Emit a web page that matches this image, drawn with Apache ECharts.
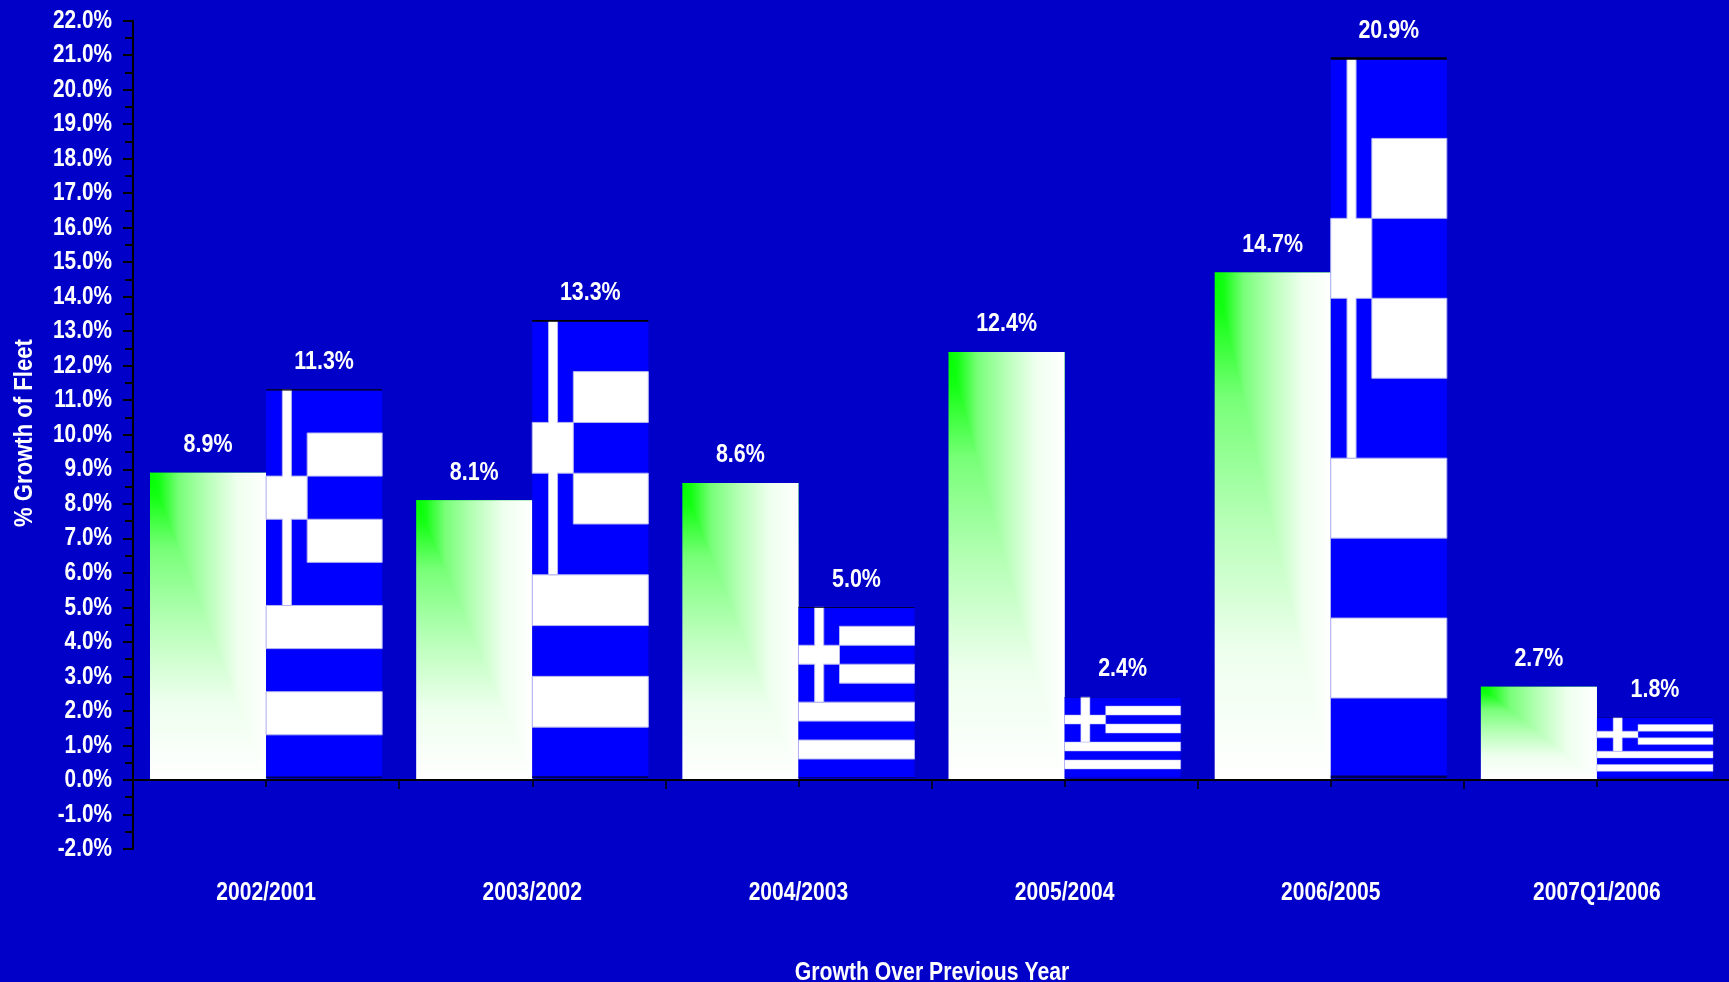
<!DOCTYPE html>
<html>
<head>
<meta charset="utf-8">
<style>html,body{margin:0;padding:0;background:#0000c8;overflow:hidden}#chart{width:1729px;height:982px}</style>
<script src="https://cdn.jsdelivr.net/npm/echarts@6/dist/echarts.min.js"></script>
</head>
<body>
<div id="chart"></div>
<script>
// Year-over-year fleet growth, two series per period.
const periods = ['2002/2001', '2003/2002', '2004/2003', '2005/2004', '2006/2005', '2007Q1/2006'];
const worldGrowth = [8.9, 8.1, 8.6, 12.4, 14.7, 2.7];
const greekGrowth = [11.3, 13.3, 5.0, 2.4, 20.9, 1.8];
const percentTicks = [-2, -1, 0, 1, 2, 3, 4, 5, 6, 7, 8, 9, 10, 11, 12, 13, 14, 15, 16, 17, 18, 19, 20, 21, 22];
const xAxisTitle = 'Growth Over Previous Year';
const yAxisTitle = '% Growth of Fleet';

const FONT = 'bold 26px "Liberation Sans", Arial, sans-serif';
const BAR_RATIO = 116 / 266;

const pct = v => v.toFixed(1) + '%';

// Bold sans squeezed horizontally; used for every piece of chart text.
function narrowText(x, y, text, opts) {
  const o = opts || {};
  return {
    type: 'text',
    x, y,
    rotation: o.rotation || 0,
    scaleX: o.squeeze || 0.81,
    z2: 20,
    style: { text, x: 0, y: 0, fill: '#ffffff', font: FONT, align: o.align || 'center', verticalAlign: 'middle' }
  };
}

const fade = (x2, y2) => ({
  type: 'linear', x: 0, y: 0, x2, y2,
  colorStops: [
    { offset: 0, color: '#00ff00' },
    { offset: 0.08, color: '#14ff14' },
    { offset: 0.25, color: '#78ff78' },
    { offset: 0.5, color: '#b8ffb8' },
    { offset: 0.75, color: '#eeffee' },
    { offset: 1, color: '#ffffff' }
  ]
});

// Rectangular corner fade: vertical ramp below the diagonal, horizontal ramp above it.
function renderGradientBar(params, api) {
  const i = api.value(0), v = api.value(1);
  const w = api.size([1, 0])[0] * BAR_RATIO;
  const c = api.coord([i, v]), base = api.coord([i, 0]);
  const x0 = c[0] - w, x1 = c[0], y0 = c[1], y1 = base[1] - 1;
  return {
    type: 'group',
    children: [
      { type: 'rect', shape: { x: x0, y: y0, width: w, height: y1 - y0 }, style: { fill: fade(0, 1) } },
      { type: 'polygon', shape: { points: [[x0, y0], [x1, y0], [x1, y1]] }, style: { fill: fade(1, 0) } },
      narrowText((x0 + x1) / 2, y0 - 28, pct(v), { squeeze: 0.825 })
    ]
  };
}

// Nine-stripe flag stretched to fill the bar.
function renderFlagBar(params, api) {
  const i = api.value(0), v = api.value(1);
  const w = api.size([1, 0])[0] * BAR_RATIO;
  const c = api.coord([i, v]), base = api.coord([i, 0]);
  const x0 = c[0], y0 = c[1], y1 = base[1] - 2;
  const h = y1 - y0, s = h / 9;
  const edge = { fill: '#ffffff', stroke: '#b4b4f0', lineWidth: s < 15 ? 0.5 : 1 };
  const cantonW = w * 0.354;
  const crossX = x0 + w * 0.14, crossW = w * 0.078;
  const rim = Math.min(2.5, h / 280);
  const kids = [
    { type: 'rect', shape: { x: x0, y: y0, width: w, height: h }, style: { fill: '#0000ff' } }
  ];
  [1, 3, 5, 7].forEach(k => {
    const left = k < 5 ? x0 + cantonW : x0;
    kids.push({
      type: 'rect',
      shape: { x: left, y: y0 + k * s, width: x0 + w - left, height: s },
      style: edge
    });
  });
  kids.push(
    { type: 'rect', shape: { x: crossX, y: y0, width: crossW, height: 5 * s }, style: edge },
    { type: 'rect', shape: { x: x0, y: y0 + 2 * s, width: cantonW, height: s }, style: edge },
    // Clears the outline where the two arms of the cross meet.
    { type: 'rect', shape: { x: crossX + 0.5, y: y0 + 2 * s - 1, width: crossW - 1, height: s + 2 }, style: { fill: '#ffffff' } },
    { type: 'rect', shape: { x: x0, y: y0 - rim / 2, width: w, height: rim }, style: { fill: '#000000' } },
    { type: 'rect', shape: { x: x0, y: y1 - rim, width: w, height: rim }, style: { fill: '#000050' } },
    narrowText(x0 + w / 2, y0 - 28, pct(v), { squeeze: 0.825 })
  );
  return { type: 'group', children: kids };
}

// Percent labels left of the value axis.
function renderPercentLabel(params, api) {
  const band = api.size([1, 0])[0];
  const p = api.coord([0, api.value(1)]);
  return narrowText(p[0] - band / 2 - 21, p[1], pct(api.value(1)), { align: 'right', squeeze: 0.8 });
}

// Period names below the lowest gridline.
function renderPeriodLabel(params, api) {
  const p = api.coord([api.value(0), api.value(1)]);
  return narrowText(p[0], p[1] + 44, periods[params.dataIndex]);
}

const chart = echarts.init(document.getElementById('chart'));
chart.setOption({
  backgroundColor: '#0000c8',
  animation: false,
  grid: { left: 133, right: -1, top: 20.5, bottom: 133, outerBoundsMode: 'none' },
  xAxis: [
    {
      type: 'category',
      data: periods,
      position: 'bottom',
      axisLine: { onZero: true, onZeroAxisIndex: 0, lineStyle: { color: '#000', width: 2 } },
      axisTick: { show: true, alignWithLabel: false, length: 9, lineStyle: { color: '#000', width: 1.5 } },
      axisLabel: { show: false },
      splitLine: { show: false }
    },
    {
      // Shorter ticks at each period's centre.
      type: 'category',
      data: periods,
      position: 'bottom',
      axisLine: { show: false, onZero: true, onZeroAxisIndex: 0 },
      axisTick: { show: true, alignWithLabel: true, length: 7, lineStyle: { color: '#000', width: 1.5 } },
      axisLabel: { show: false },
      splitLine: { show: false }
    }
  ],
  yAxis: {
    type: 'value',
    min: -2,
    max: 22,
    interval: 1,
    axisLine: { show: true, onZero: false, lineStyle: { color: '#000', width: 2 } },
    axisTick: { show: true, length: 10, lineStyle: { color: '#000', width: 2 } },
    minorTick: { show: true, splitNumber: 2, length: 8, lineStyle: { color: '#000', width: 2 } },
    axisLabel: { show: false },
    splitLine: { show: false }
  },
  graphic: [
    narrowText(932, 973, xAxisTitle, { squeeze: 0.815 }),
    narrowText(25, 433, yAxisTitle, { squeeze: 0.85, rotation: Math.PI / 2 })
  ],
  series: [
    { name: 'World', type: 'custom', renderItem: renderGradientBar, clip: false,
      data: worldGrowth.map((v, i) => [i, v]), encode: { x: 0, y: 1 } },
    { name: 'Greek', type: 'custom', renderItem: renderFlagBar, clip: false,
      data: greekGrowth.map((v, i) => [i, v]), encode: { x: 0, y: 1 } },
    { name: 'Percent labels', type: 'custom', renderItem: renderPercentLabel, clip: false, silent: true,
      data: percentTicks.map(v => [0, v]), encode: { x: 0, y: 1 } },
    { name: 'Period labels', type: 'custom', renderItem: renderPeriodLabel, clip: false, silent: true,
      data: periods.map((p, i) => [i, -2]), encode: { x: 0, y: 1 } }
  ]
});
</script>
</body>
</html>
